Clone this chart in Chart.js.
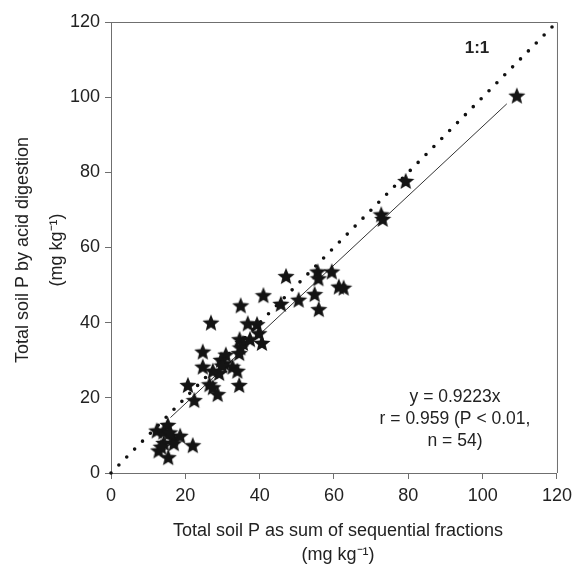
<!DOCTYPE html>
<html>
<head>
<meta charset="utf-8">
<script src="https://cdn.jsdelivr.net/npm/chart.js@4.4.0/dist/chart.umd.min.js"></script>
<style>
  body { margin: 0; background: #fff; }
</style>
</head>
<body>
<canvas id="soilChart" width="578" height="569"></canvas>
<script>
// total soil P, sum of sequential fractions (x) vs acid digestion (y), mg/kg
const sequentialP = [109.2, 79.3, 72.7, 73.1, 47.1, 55.6, 55.8, 59.4, 61.3, 62.6,
  54.8, 55.9, 50.5, 45.7, 41.0, 34.9, 26.9, 36.8, 39.3, 39.8,
  40.6, 34.6, 35.5, 37.4, 34.8, 34.5, 24.7, 30.9, 29.6, 30.5,
  24.7, 27.4, 32.7, 34.0, 29.1, 26.5, 27.4, 34.5, 28.7, 20.7,
  22.4, 22.0, 15.4, 12.8, 15.3, 12.3, 14.2, 16.7, 18.6, 16.9,
  14.1, 15.8, 29.9, 13.5];
const acidP = [100.4, 77.7, 68.8, 67.6, 52.4, 53.6, 51.8, 53.6, 49.6, 49.3,
  47.6, 43.6, 46.1, 45.0, 47.3, 44.6, 40.0, 39.8, 39.6, 37.2,
  34.6, 35.6, 34.6, 35.6, 33.4, 31.9, 32.3, 31.5, 30.1, 29.2,
  28.3, 27.2, 28.3, 27.2, 26.6, 23.6, 22.8, 23.4, 21.0, 23.4,
  19.4, 7.4, 4.2, 6.0, 12.8, 11.3, 8.0, 9.2, 9.9, 7.9,
  11.0, 10.8, 28.6, 7.0];

const oneToOne = [0, 120];
const fitX = [16, 106.5];
const fitSlope = 0.9223;
const axisTicks = [0, 20, 40, 60, 80, 100, 120];

const points = sequentialP.map((x, i) => ({ x: x, y: acidP[i] }));
const lineOne = oneToOne.map(v => ({ x: v, y: v }));
const fitLine = fitX.map(x => ({ x: x, y: fitSlope * x }));

// filled five point star for the markers
function makeStar(size) {
  const c = document.createElement('canvas');
  c.width = size;
  c.height = size;
  const g = c.getContext('2d');
  const cx = size / 2, cy = size / 2 + 0.8;
  const R = size / 2, r = R * 0.44;
  g.beginPath();
  for (let i = 0; i < 10; i++) {
    const rad = i % 2 === 0 ? R : r;
    const a = -Math.PI / 2 + i * Math.PI / 5;
    const px = cx + rad * Math.cos(a);
    const py = cy + rad * Math.sin(a);
    if (i === 0) g.moveTo(px, py); else g.lineTo(px, py);
  }
  g.closePath();
  g.fillStyle = '#141414';
  g.fill();
  return c;
}
const starImg = makeStar(18);

const FONT = '"Liberation Sans", Arial, sans-serif';

const textPlugin = {
  id: 'textPlugin',
  afterDraw(chart) {
    const ctx = chart.ctx;
    const a = chart.chartArea;
    ctx.save();
    // box frame top and right
    ctx.strokeStyle = '#6f6f6f';
    ctx.lineWidth = 1;
    ctx.beginPath();
    ctx.moveTo(a.left, a.top + 0.5);
    ctx.lineTo(a.right + 0.5, a.top + 0.5);
    ctx.lineTo(a.right + 0.5, a.bottom);
    ctx.stroke();

    ctx.fillStyle = '#222';
    ctx.textAlign = 'center';
    ctx.textBaseline = 'middle';

    ctx.font = 'bold 17px ' + FONT;
    ctx.fillText('1:1', 477, 48);

    ctx.font = '17.5px ' + FONT;
    ctx.fillText('y = 0.9223x', 455, 397);
    ctx.fillText('r = 0.959 (P < 0.01,', 455, 419);
    ctx.fillText('n = 54)', 455, 441);

    // x title
    ctx.font = '18px ' + FONT;
    ctx.fillText('Total soil P as sum of sequential fractions', 338, 531);
    ctx.fillText('(mg kg\u207B\u00B9)', 338, 555);

    // y title
    ctx.translate(23, 250);
    ctx.rotate(-Math.PI / 2);
    ctx.fillText('Total soil P by acid digestion', 0, 0);
    ctx.fillText('(mg kg\u207B\u00B9)', 0, 34);
    ctx.restore();
  }
};

new Chart(document.getElementById('soilChart'), {
  type: 'scatter',
  data: {
    datasets: [
      {
        label: 'samples',
        data: points,
        pointStyle: starImg,
        pointRadius: 9,
        order: 0
      },
      {
        type: 'line',
        label: '1:1',
        data: lineOne,
        borderColor: '#111',
        borderWidth: 3.6,
        borderDash: [0, 11.2],
        borderCapStyle: 'round',
        pointRadius: 0,
        clip: false,
        order: 2
      },
      {
        type: 'line',
        label: 'fit',
        data: fitLine,
        borderColor: '#333',
        borderWidth: 1,
        pointRadius: 0,
        order: 1
      }
    ]
  },
  options: {
    responsive: false,
    animation: false,
    layout: { autoPadding: false, padding: { top: 22, right: 17, left: 0, bottom: 0 } },
    plugins: {
      legend: { display: false },
      tooltip: { enabled: false }
    },
    scales: {
      x: {
        type: 'linear',
        min: 0,
        max: 120,
        afterBuildTicks: s => { s.ticks = axisTicks.map(v => ({ value: v })); },
        afterFit: s => { s.height = 96; },
        ticks: { color: '#222', font: { size: 18, family: FONT }, padding: 6 },
        grid: { drawOnChartArea: false, tickLength: 6, color: '#6f6f6f' },
        border: { color: '#6f6f6f', width: 1 }
      },
      y: {
        type: 'linear',
        min: 0,
        max: 120,
        afterBuildTicks: s => { s.ticks = axisTicks.map(v => ({ value: v })); },
        afterFit: s => { s.width = 111; },
        ticks: { color: '#222', font: { size: 18, family: FONT }, padding: 5 },
        grid: { drawOnChartArea: false, tickLength: 6, color: '#6f6f6f' },
        border: { color: '#6f6f6f', width: 1 }
      }
    }
  },
  plugins: [textPlugin]
});
</script>
</body>
</html>
